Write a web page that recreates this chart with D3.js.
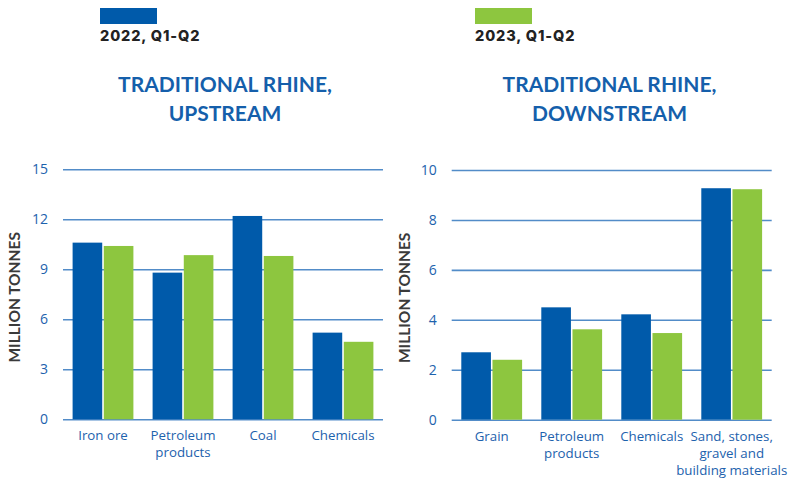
<!DOCTYPE html>
<html>
<head>
<meta charset="utf-8">
<script src="https://cdn.jsdelivr.net/npm/d3@7"></script>
<style>
  html, body { margin: 0; padding: 0; background: #fff; }
  svg { display: block; }
</style>
</head>
<body>
<svg id="chart" width="795" height="478"></svg>
<script>
// ---- data ----
const seriesNames = ["2022, Q1-Q2", "2023, Q1-Q2"];
const seriesColors = ["#005aaa", "#8dc63f"];

const upCategories = ["Iron ore", "Petroleum products", "Coal", "Chemicals"];
const upLabels = [["Iron ore"], ["Petroleum", "products"], ["Coal"], ["Chemicals"]];
const up2022 = [10.6, 8.8, 12.2, 5.2];
const up2023 = [10.4, 9.85, 9.8, 4.65];
const upTicks = [0, 3, 6, 9, 12, 15];

const downCategories = ["Grain", "Petroleum products", "Chemicals", "Sand, stones, gravel and building materials"];
const downLabels = [["Grain"], ["Petroleum", "products"], ["Chemicals"], ["Sand, stones,", "gravel and", "building materials"]];
const down2022 = [2.7, 4.5, 4.22, 9.27];
const down2023 = [2.4, 3.62, 3.47, 9.23];
const downTicks = [0, 2, 4, 6, 8, 10];

const titles = [["TRADITIONAL RHINE,", "UPSTREAM"], ["TRADITIONAL RHINE,", "DOWNSTREAM"]];
const yTitle = "MILLION TONNES";

// ---- drawing ----
const svg = d3.select("#chart");
const blueText = "#1d62ad";

// legend
const legendX = [100, 475];
seriesNames.forEach((name, i) => {
  svg.append("rect").attr("x", legendX[i]).attr("y", 8).attr("width", 57).attr("height", 16)
    .attr("fill", seriesColors[i]);
  svg.append("text").attr("x", legendX[i]).attr("y", 41)
    .attr("font-family", "Inter, 'Open Sans', sans-serif").attr("font-weight", 800)
    .attr("font-size", 14.5).attr("letter-spacing", 0.9).attr("fill", "#222").text(name);
});

function drawPanel(cfg) {
  const { left, right, top, bottom, cats, labels, v1, v2, ticks, title, yTitleX, titleX } = cfg;
  const g = svg.append("g");

  const y = d3.scaleLinear().domain([0, d3.max(ticks)]).range([bottom, top]);
  const x0 = d3.scaleBand().domain(cats).range([left, right]).paddingInner(0.24).paddingOuter(0.12);
  const x1 = d3.scaleBand().domain(seriesNames).range([0, x0.bandwidth()]).paddingInner(0.05);

  // gridlines via axis
  const grid = g.append("g").attr("transform", `translate(${left},0)`)
    .call(d3.axisRight(y).tickValues(ticks).tickSize(right - left).tickFormat(""));
  grid.select(".domain").remove();
  grid.selectAll(".tick line").attr("stroke", "#3f7fc2").attr("stroke-width", 1.6).attr("stroke-opacity", 0.9);

  // y tick labels
  const yAxis = g.append("g").attr("transform", `translate(${left - 15},0)`)
    .call(d3.axisLeft(y).tickValues(ticks).tickSize(0).tickPadding(0));
  yAxis.select(".domain").remove();
  yAxis.selectAll("text").attr("font-family", "'Open Sans', sans-serif").attr("font-size", 14)
    .attr("fill", blueText);

  // bars
  const data = cats.map((c, i) => ({ cat: c, vals: [v1[i], v2[i]] }));
  const groups = g.selectAll(".grp").data(data).enter().append("g")
    .attr("transform", d => `translate(${x0(d.cat)},0)`);
  groups.selectAll("rect").data(d => d.vals.map((v, k) => ({ k, v }))).enter().append("rect")
    .attr("x", d => x1(seriesNames[d.k]))
    .attr("width", x1.bandwidth())
    .attr("y", d => y(d.v))
    .attr("height", d => y(0) - y(d.v))
    .attr("fill", d => seriesColors[d.k]);

  // x labels
  cats.forEach((c, i) => {
    const t = g.append("text").attr("x", x0(c) + x0.bandwidth() / 2).attr("y", bottom + 21)
      .attr("text-anchor", "middle").attr("font-family", "'Open Sans', sans-serif")
      .attr("font-size", 13.3).attr("fill", blueText);
    labels[i].forEach((ln, j) => {
      t.append("tspan").attr("x", x0(c) + x0.bandwidth() / 2).attr("dy", j === 0 ? 0 : 17).text(ln);
    });
  });

  // y title
  const midY = (top + bottom) / 2 + 3;
  g.append("text").attr("transform", `translate(${yTitleX},${midY}) rotate(-90)`)
    .attr("text-anchor", "middle").attr("font-family", "Lato, 'Open Sans', sans-serif")
    .attr("font-weight", 700).attr("font-size", 15.5).attr("fill", "#3a3a3a").text(yTitle);

  // chart title
  title.forEach((ln, j) => {
    g.append("text").attr("x", titleX).attr("y", 92 + j * 29).attr("text-anchor", "middle")
      .attr("font-family", "Lato, sans-serif").attr("font-weight", 700).attr("font-size", 21)
      .attr("fill", "#155fab").text(ln);
  });
}

drawPanel({ left: 63, right: 383, top: 169.3, bottom: 419.3, cats: upCategories, labels: upLabels,
  v1: up2022, v2: up2023, ticks: upTicks, title: titles[0], yTitleX: 20, titleX: 225 });
drawPanel({ left: 451.7, right: 771.7, top: 170, bottom: 419.7, cats: downCategories, labels: downLabels,
  v1: down2022, v2: down2023, ticks: downTicks, title: titles[1], yTitleX: 410, titleX: 609.5 });
</script>
</body>
</html>
